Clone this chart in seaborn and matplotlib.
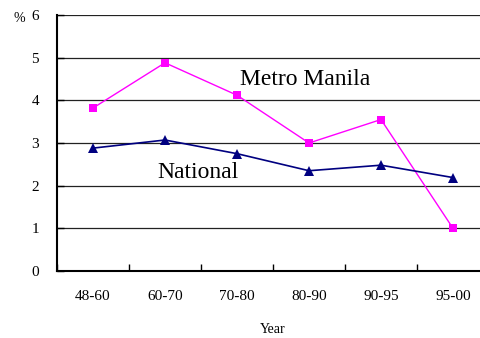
import matplotlib
matplotlib.use("Agg")
import matplotlib.pyplot as plt
import seaborn as sns
import pandas as pd

periods = ["48-60", "60-70", "70-80", "80-90", "90-95", "95-00"]
metro_manila = [3.82, 4.88, 4.12, 3.00, 3.55, 1.00]
national = [2.88, 3.07, 2.75, 2.35, 2.48, 2.19]
y_ticks = [0, 1, 2, 3, 4, 5, 6]

sns.set_style("white")
plt.rcParams["font.family"] = ["Liberation Serif", "DejaVu Serif"]
plt.rcParams["text.color"] = "black"
plt.rcParams["xtick.color"] = "black"
plt.rcParams["ytick.color"] = "black"
plt.rcParams["axes.labelcolor"] = "black"

df = pd.DataFrame({"period": periods * 2,
                   "rate": metro_manila + national,
                   "area": ["Metro Manila"] * 6 + ["National"] * 6})

fig = plt.figure(figsize=(4.81, 3.38), dpi=100)
ax = fig.add_axes([57 / 481, 67 / 338, 432 / 481, 256 / 338])

ax.set_xlim(-0.5, 5.5)
ax.set_ylim(0, 6)
ax.set_yticks(y_ticks)
ax.yaxis.grid(True, color="#222222", linewidth=0.9)
ax.set_axisbelow(True)

sns.lineplot(data=df[df.area == "Metro Manila"], x="period", y="rate", ax=ax,
             color="#FF00FF", marker="s", markersize=6, markeredgewidth=0,
             linewidth=1.0, sort=False, legend=False)
sns.lineplot(data=df[df.area == "National"], x="period", y="rate", ax=ax,
             color="#000080", marker="^", markersize=7, markeredgewidth=0,
             linewidth=1.2, sort=False, legend=False)

ax.set_xlim(-0.5, 5.5)
ax.set_ylim(0, 6)
ax.set_xticks(range(len(periods)))
ax.set_xticklabels(periods)
ax.set_xticks([i + 0.5 for i in range(-1, len(periods))], minor=True)
ax.tick_params(axis="x", which="major", bottom=True, length=0, pad=14, labelsize=11)
ax.tick_params(axis="x", which="minor", bottom=True, direction="in", length=5, width=1, color="black")
ax.tick_params(axis="y", left=True, direction="in", length=5, width=1, pad=13, labelsize=11, color="black")

for side in ("top", "right"):
    ax.spines[side].set_visible(False)
for side in ("left", "bottom"):
    ax.spines[side].set_color("black")
    ax.spines[side].set_linewidth(1.5)

ax.set_xlabel("Year", fontsize=10, labelpad=14)
ax.set_ylabel("")

ax.text(2.04, 4.48, "Metro Manila", fontsize=17, va="center", ha="left")
ax.text(0.89, 2.32, "National", fontsize=17, va="center", ha="left")
fig.text(13 / 481, 1 - 18 / 338, "%", fontsize=10, va="center", ha="left")

fig.savefig("out.png", dpi=100)
